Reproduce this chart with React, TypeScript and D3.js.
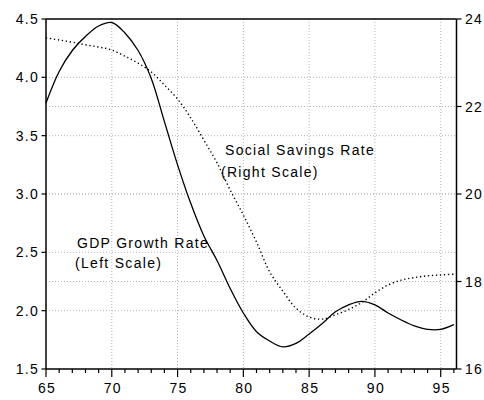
import React from "react";
import * as d3 from "d3";

const years = [65, 66, 67, 68, 69, 70, 71, 72, 73, 74, 75, 76, 77, 78, 79, 80, 81, 82, 83, 84, 85, 86, 87, 88, 89, 90, 91, 92, 93, 94, 95, 96];
const gdpGrowth = [3.78, 4.05, 4.23, 4.35, 4.44, 4.47, 4.38, 4.23, 3.99, 3.62, 3.25, 2.92, 2.64, 2.43, 2.19, 1.98, 1.82, 1.74, 1.69, 1.72, 1.8, 1.89, 1.99, 2.05, 2.08, 2.05, 1.98, 1.92, 1.87, 1.84, 1.84, 1.88];
const savingsRate = [23.57, 23.52, 23.47, 23.41, 23.36, 23.29, 23.15, 22.99, 22.79, 22.49, 22.17, 21.74, 21.23, 20.71, 20.09, 19.52, 18.9, 18.22, 17.78, 17.39, 17.19, 17.14, 17.24, 17.36, 17.52, 17.74, 17.92, 18.03, 18.09, 18.13, 18.15, 18.17];
const leftTicks = [4.5, 4.0, 3.5, 3.0, 2.5, 2.0, 1.5];
const rightTicks = [24, 22, 20, 18, 16];
const xMajorTicks = [65, 70, 75, 80, 85, 90, 95];

export default function App() {
  const W = 484, H = 400;
  const L = 46, R = 456.5, T = 19, B = 369;
  const x = d3.scaleLinear().domain([65, 96.2]).range([L, R]);
  const yL = d3.scaleLinear().domain([1.5, 4.5]).range([B, T]);
  const yR = d3.scaleLinear().domain([16, 24]).range([B, T]);
  const gdpLine = d3.line<number>().x((_, i) => x(years[i])).y((d) => yL(d)).curve(d3.curveCatmullRom.alpha(0.5));
  const savLine = d3.line<number>().x((_, i) => x(years[i])).y((d) => yR(d)).curve(d3.curveCatmullRom.alpha(0.5));
  const minor = d3.range(66, 97).filter((v) => v % 5 !== 0);
  const font = "'Liberation Sans', Arial, sans-serif";
  const gridColor = "#b5b5b5";
  const txt = { fontFamily: font, fontSize: 14, letterSpacing: 1.3, fill: "#000" } as const;
  return (
    <svg width={W} height={H} style={{ position: "absolute", left: 0, top: 0, background: "#fff" }}>
      <rect x={0} y={0} width={W} height={H} fill="#fff" />
      {leftTicks.filter((v) => v !== 4.5 && v !== 1.5).map((v) => (
        <line key={"gl" + v} x1={L} x2={R} y1={yL(v)} y2={yL(v)} stroke={gridColor} strokeDasharray="1 2" />
      ))}
      {rightTicks.filter((v) => v !== 24 && v !== 16).map((v) => (
        <line key={"gr" + v} x1={L} x2={R} y1={yR(v)} y2={yR(v)} stroke={gridColor} strokeDasharray="1 2" />
      ))}
      {xMajorTicks.filter((v) => v !== 65).map((v) => (
        <line key={"gx" + v} x1={x(v)} x2={x(v)} y1={T} y2={B} stroke={gridColor} strokeDasharray="1 2" />
      ))}
      <path d={savLine(savingsRate) || ""} fill="none" stroke="#000" strokeWidth={1.4} strokeDasharray="1.3 2.7" />
      <path d={gdpLine(gdpGrowth) || ""} fill="none" stroke="#000" strokeWidth={1.3} />
      <line x1={L} x2={R} y1={T} y2={T} stroke="#000" strokeWidth={1.5} />
      <line x1={L} x2={R} y1={B} y2={B} stroke="#000" strokeWidth={1.5} />
      <line x1={L} x2={L} y1={T} y2={B} stroke="#000" strokeWidth={1.5} />
      <line x1={R} x2={R} y1={T} y2={B} stroke="#000" strokeWidth={1.5} />
      {leftTicks.map((v) => (
        <g key={"lt" + v}>
          <line x1={L - 4.5} x2={L} y1={yL(v)} y2={yL(v)} stroke="#000" strokeWidth={1.2} />
          <text x={39} y={yL(v) + 5} textAnchor="end" {...txt}>{v.toFixed(1)}</text>
        </g>
      ))}
      {rightTicks.map((v) => (
        <g key={"rt" + v}>
          <line x1={R} x2={R + 5} y1={yR(v)} y2={yR(v)} stroke="#000" strokeWidth={1.2} />
          <text x={465} y={yR(v) + 5} textAnchor="start" {...txt}>{v}</text>
        </g>
      ))}
      {minor.map((v) => (
        <line key={"mx" + v} x1={x(v)} x2={x(v)} y1={B} y2={B + 4} stroke="#000" strokeWidth={1.2} />
      ))}
      {xMajorTicks.map((v) => (
        <g key={"xt" + v}>
          <line x1={x(v)} x2={x(v)} y1={B} y2={B + 8} stroke="#000" strokeWidth={1.2} />
          <text x={x(v) + 1} y={393} textAnchor="middle" {...txt}>{v}</text>
        </g>
      ))}
      <text x={225} y={155} {...txt}>Social Savings Rate</text>
      <text x={221} y={177} {...txt}>(Right Scale)</text>
      <text x={77} y={248} {...txt}>GDP Growth Rate</text>
      <text x={75} y={268} {...txt}>(Left Scale)</text>
    </svg>
  );
}
